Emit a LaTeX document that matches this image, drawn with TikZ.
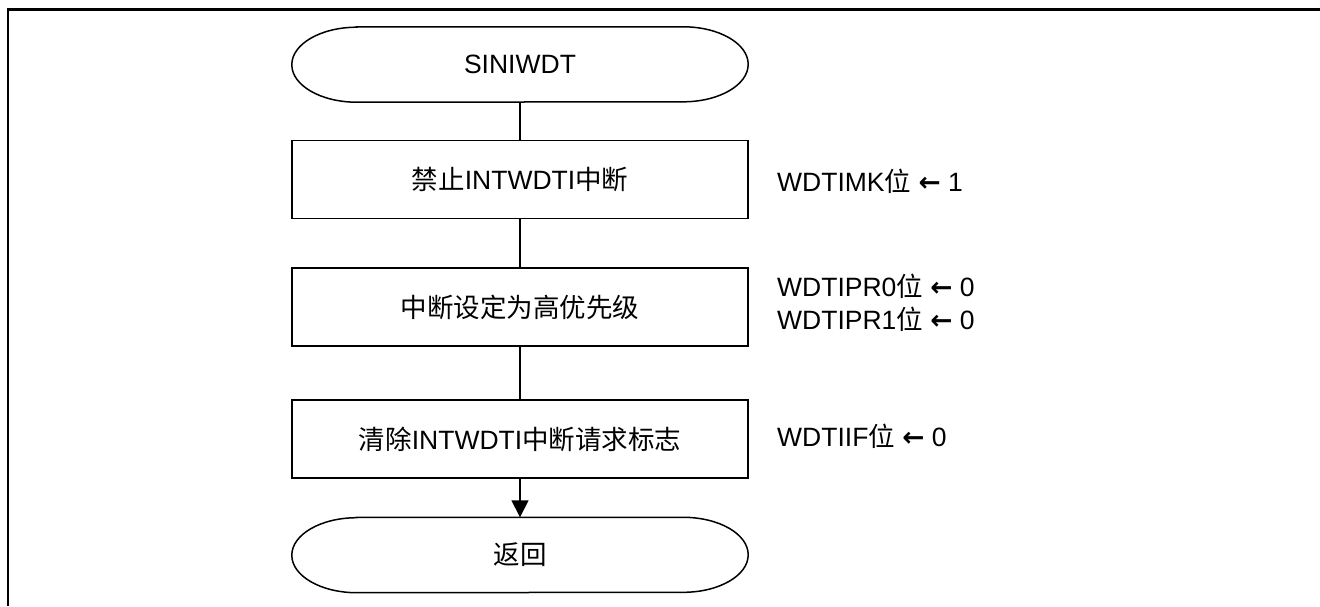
\documentclass[tikz,border=0pt]{standalone}
\usepackage{fontspec}
\setmainfont{Liberation Sans}
\newfontfamily\cjk{Noto Sans CJK SC}
\newfontfamily\arrowfont{DejaVu Sans}
\usetikzlibrary{arrows.meta}
\newcommand{\zh}[1]{{\cjk #1}}
\newcommand{\larr}{{\arrowfont\bfseries ←}}
\tikzset{
  txt/.style={font=\fontsize{26.5}{33}\selectfont, inner sep=0pt},
  procbox/.style={draw, line width=1.5pt, minimum width=456pt, minimum height=78pt, txt},
  termbox/.style={minimum width=456pt, minimum height=75pt, txt},
  flow/.style={line width=1.5pt},
  note/.style={txt, anchor=west, align=left},
}
\newcommand{\terminal}[1]{%
  \draw[line width=1.5pt] ([xshift=65pt]#1.north west) -- ([xshift=-65pt]#1.north east)
    arc[start angle=90, end angle=-90, x radius=65pt, y radius=37.5pt]
    -- ([xshift=65pt]#1.south west)
    arc[start angle=270, end angle=90, x radius=65pt, y radius=37.5pt] -- cycle;}
\begin{document}
\begin{tikzpicture}[x=1pt, y=-1pt]
\useasboundingbox (0,0) rectangle (1320,606);
% outer frame
\draw[line width=2.4pt] (7.8,606) -- (7.8,9.5) -- (1320,9.5);

\node[termbox] (start) at (520,64.5) {SINIWDT};
\terminal{start}
\node[procbox] (s1) at (520,179.5) {\zh{禁止}INTWDTI\zh{中断}};
\node[procbox] (s2) at (520,307) {\zh{中断设定为高优先级}};
\node[procbox] (s3) at (520,439) {\zh{清除}INTWDTI\zh{中断请求标志}};
\node[termbox] (end) at (520,555) {\zh{返回}};
\terminal{end}

\draw[flow] (start.south) -- (s1.north);
\draw[flow] (s1.south) -- (s2.north);
\draw[flow] (s2.south) -- (s3.north);
\draw[flow, -{Triangle[length=17pt, width=17pt]}] (s3.south) -- (end.north);

\node[note] (n1) at (777,181) {WDTIMK\zh{位} \larr{} 1};
\node[note] (n2) at (777,303) {WDTIPR0\zh{位} \larr{} 0\\WDTIPR1\zh{位} \larr{} 0};
\node[note] (n3) at (777,436) {WDTIIF\zh{位} \larr{} 0};
\end{tikzpicture}
\end{document}
